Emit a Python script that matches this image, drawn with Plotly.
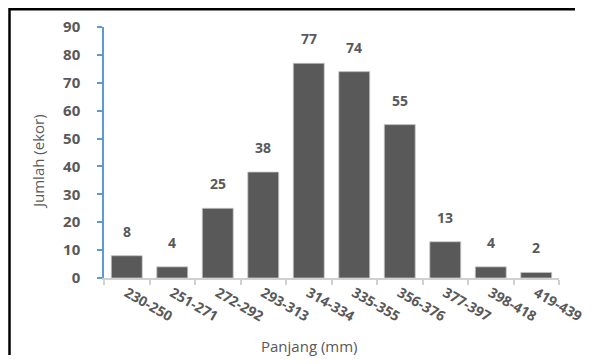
import plotly.graph_objects as go

categories = ["230-250", "251-271", "272-292", "293-313", "314-334",
              "335-355", "356-376", "377-397", "398-418", "419-439"]
counts = [8, 4, 25, 38, 77, 74, 55, 13, 4, 2]
y_ticks = [0, 10, 20, 30, 40, 50, 60, 70, 80, 90]
x_title = "Panjang (mm)"
y_title = "Jumlah (ekor)"

GRAY = "#595959"
FONT = "Open Sans"

fig = go.Figure(go.Bar(
    x=categories, y=counts,
    marker=dict(color=GRAY, line=dict(width=0.8, color="#C8C8C8")),
    width=0.68,
    hoverinfo="skip",
))

for c, v in zip(categories, counts):
    fig.add_annotation(x=c, y=v, text=f"<b>{v}</b>", showarrow=False,
                       yanchor="bottom", yshift=13,
                       font=dict(family=FONT, size=14, color=GRAY))

# page has an 8px body margin; work in page pixels and convert
OFF = 8
W, H = 594 - 2 * OFF, 364 - 2 * OFF
PL, PR, PT, PB = 104, 559, 27, 278   # plot area in page pixels
L, R, T, B = PL - OFF, W - (PR - OFF), PT - OFF, H - (PB - OFF)
pw, ph = W - L - R, H - T - B
def px(x):
    return (x - OFF - L) / pw
def py(y):
    return (H - B - (y - OFF)) / ph

# chart frame (only left and top edges visible)
fig.add_shape(type="line", xref="paper", yref="paper",
              x0=px(9.5), x1=px(9.5), y0=py(8), y1=py(355),
              line=dict(color="black", width=2.5), layer="above")
fig.add_shape(type="line", xref="paper", yref="paper",
              x0=px(9), x1=px(575), y0=py(9.2), y1=py(9.2),
              line=dict(color="black", width=2.5), layer="above")

fig.add_annotation(xref="paper", yref="paper", x=px(309), y=py(346),
                   text=x_title, showarrow=False, xanchor="center", yanchor="middle",
                   font=dict(family=FONT, size=15, color=GRAY))
fig.add_annotation(xref="paper", yref="paper", x=px(38), y=py(162),
                   text=y_title, showarrow=False, textangle=-90,
                   xanchor="center", yanchor="middle",
                   font=dict(family=FONT, size=15, color=GRAY))

fig.update_layout(
    width=W, height=H,
    margin=dict(l=L, r=R, t=T, b=B, autoexpand=False),
    plot_bgcolor="white", paper_bgcolor="white",
    showlegend=False,
    font=dict(family=FONT, color=GRAY),
    xaxis=dict(
        automargin=False,
        showline=True, linecolor="#D0D0D0", linewidth=1.5,
        ticks="outside", ticklen=5, tickcolor="#D0D0D0", tickwidth=1.5,
        tickson="boundaries",
        tickangle=30,
        tickfont=dict(family=FONT, size=14, color=GRAY, weight="bold"),
        showgrid=False,
    ),
    yaxis=dict(
        automargin=False,
        range=[0, 90], tickvals=y_ticks,
        showline=True, linecolor="#5B9BD5", linewidth=1.5,
        ticks="outside", ticklen=5, tickcolor="#5B9BD5", tickwidth=1.5,
        ticklabelstandoff=14,
        tickfont=dict(family=FONT, size=15, color=GRAY, weight="bold"),
        showgrid=False, zeroline=False,
    ),
)

fig.write_html("out.html")
